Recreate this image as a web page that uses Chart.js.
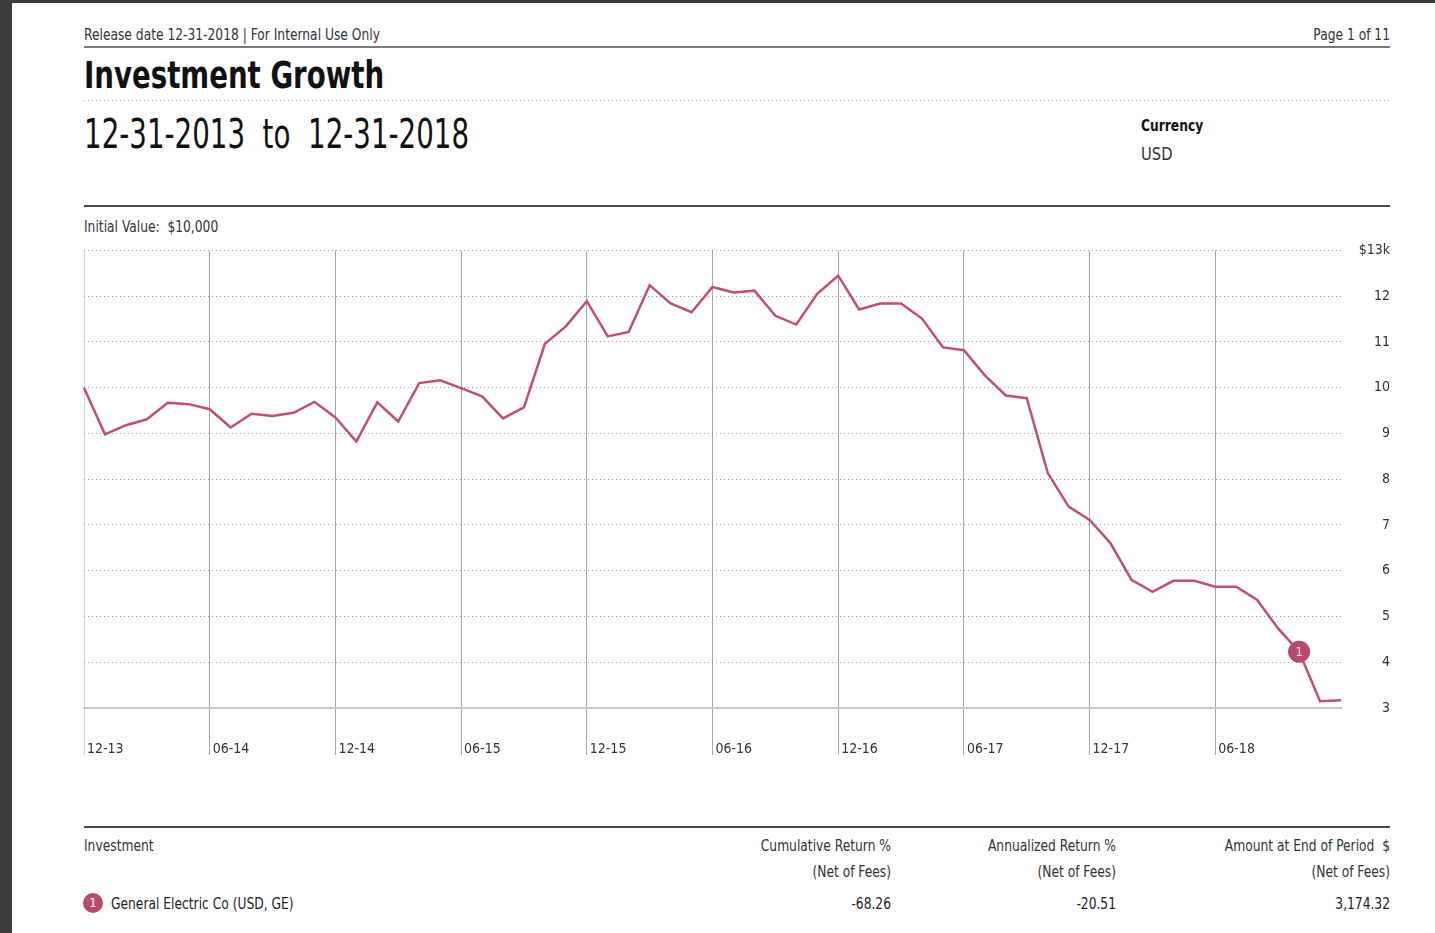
<!DOCTYPE html>
<html>
<head>
<meta charset="utf-8">
<script src="https://cdn.jsdelivr.net/npm/chart.js@4/dist/chart.umd.min.js"></script>
<style>
  html, body { margin:0; padding:0; }
  body { width:1435px; height:933px; position:relative; overflow:hidden; background:#fff;
         font-family:"DejaVu Sans Condensed","Liberation Sans Narrow","Roboto",sans-serif; color:#222; }
  .abs { position:absolute; white-space:nowrap; }
  .sl { transform:scaleX(0.91); transform-origin:0 50%; }
  .r { text-align:right; transform:scaleX(0.91); transform-origin:100% 50%; }
  .hl { position:absolute; left:84px; width:1306px; }
  .dots { height:1px; background:repeating-linear-gradient(to right,#9a9a9a 0 1px,transparent 1px 4px); }
</style>
</head>
<body>
<div class="abs" style="left:0;top:0;width:12px;height:933px;background:#3c3c3c"></div>
<div class="abs" style="left:0;top:0;width:1435px;height:3px;background:#3c3c3c"></div>

<div class="abs sl" style="left:84px;top:26px;font-size:15px;line-height:18px;color:#333">Release date 12-31-2018 | For Internal Use Only</div>
<div class="abs r" style="left:1190px;width:200px;top:26px;font-size:15px;line-height:18px;color:#333">Page 1 of 11</div>
<div class="hl" style="top:46px;height:2px;background:#7a7a7a"></div>

<div class="abs" style="left:84px;top:55px;font-size:37px;line-height:42px;font-weight:bold;color:#111;transform:scaleX(0.83);transform-origin:0 50%">Investment Growth</div>
<div class="hl dots" style="top:100px"></div>

<div class="abs" style="left:84px;top:111px;font-size:40px;line-height:46px;color:#111;transform:scaleX(0.77);transform-origin:0 50%">12-31-2013&nbsp;&nbsp;to&nbsp;&nbsp;12-31-2018</div>
<div class="abs sl" style="left:1141px;top:117px;font-size:15px;line-height:18px;font-weight:bold;color:#111">Currency</div>
<div class="abs sl" style="left:1141px;top:144px;font-size:18px;line-height:20px;color:#333">USD</div>
<div class="hl" style="top:205px;height:2px;background:#4a4a4a"></div>

<div class="abs sl" style="left:84px;top:218px;font-size:15px;line-height:18px;color:#333">Initial Value:&nbsp;&nbsp;$10,000</div>

<div class="abs" style="left:60px;top:230px;width:1330px;height:540px"><canvas id="c"></canvas></div>

<div class="hl" style="top:826px;height:2px;background:#4a4a4a"></div>
<div class="abs sl" style="left:84px;top:837px;font-size:15px;line-height:18px;color:#333">Investment</div>
<div class="abs r" style="left:691px;width:200px;top:837px;font-size:15px;line-height:18px;color:#333">Cumulative Return %</div>
<div class="abs r" style="left:691px;width:200px;top:863px;font-size:15px;line-height:18px;color:#333">(Net of Fees)</div>
<div class="abs r" style="left:916px;width:200px;top:837px;font-size:15px;line-height:18px;color:#333">Annualized Return %</div>
<div class="abs r" style="left:916px;width:200px;top:863px;font-size:15px;line-height:18px;color:#333">(Net of Fees)</div>
<div class="abs r" style="left:1090px;width:300px;top:837px;font-size:15px;line-height:18px;color:#333">Amount at End of Period&nbsp;&nbsp;$</div>
<div class="abs r" style="left:1090px;width:300px;top:863px;font-size:15px;line-height:18px;color:#333">(Net of Fees)</div>

<div class="abs" style="left:83px;top:893px;width:20px;height:20px;border-radius:50%;background:#b94a6b;color:#fff;font-size:13px;line-height:20px;text-align:center">1</div>
<div class="abs sl" style="left:111px;top:895px;font-size:15px;line-height:18px;color:#222">General Electric Co (USD, GE)</div>
<div class="abs r" style="left:691px;width:200px;top:895px;font-size:15px;line-height:18px;color:#222">-68.26</div>
<div class="abs r" style="left:916px;width:200px;top:895px;font-size:15px;line-height:18px;color:#222">-20.51</div>
<div class="abs r" style="left:1090px;width:300px;top:895px;font-size:15px;line-height:18px;color:#222">3,174.32</div>

<script>
const months = ['12-13','01-14','02-14','03-14','04-14','05-14','06-14','07-14','08-14','09-14','10-14','11-14',
  '12-14','01-15','02-15','03-15','04-15','05-15','06-15','07-15','08-15','09-15','10-15','11-15',
  '12-15','01-16','02-16','03-16','04-16','05-16','06-16','07-16','08-16','09-16','10-16','11-16',
  '12-16','01-17','02-17','03-17','04-17','05-17','06-17','07-17','08-17','09-17','10-17','11-17',
  '12-17','01-18','02-18','03-18','04-18','05-18','06-18','07-18','08-18','09-18','10-18','11-18','12-18'];
const tickLabels = ['12-13','06-14','12-14','06-15','12-15','06-16','12-16','06-17','12-17','06-18'];
// growth of $10,000, in $ thousands
const geValues = [10.00, 8.98, 9.18, 9.31, 9.67, 9.64, 9.53, 9.13, 9.43, 9.38, 9.45, 9.69,
  9.35, 8.82, 9.68, 9.26, 10.10, 10.16, 9.99, 9.81, 9.33, 9.57, 10.96, 11.34,
  11.89, 11.12, 11.22, 12.24, 11.84, 11.65, 12.20, 12.08, 12.12, 11.57, 11.38, 12.05,
  12.45, 11.71, 11.84, 11.84, 11.51, 10.88, 10.82, 10.27, 9.83, 9.77, 8.14, 7.40,
  7.11, 6.60, 5.80, 5.54, 5.78, 5.78, 5.65, 5.65, 5.36, 4.74, 4.23, 3.15, 3.17];
const markerIndex = 58;
const markerLabel = '1';

const FONT = '"DejaVu Sans Condensed","Liberation Sans Narrow","Roboto",sans-serif';

const markerPlugin = {
  id: 'markerText',
  afterDatasetsDraw(chart) {
    const pt = chart.getDatasetMeta(0).data[markerIndex];
    const ctx = chart.ctx;
    ctx.save();
    ctx.fillStyle = '#f4dde4';
    ctx.font = '13px ' + FONT;
    ctx.textAlign = 'center';
    ctx.textBaseline = 'middle';
    ctx.fillText(markerLabel, pt.x, pt.y + 1);
    ctx.restore();
  }
};

new Chart(document.getElementById('c'), {
  type: 'line',
  data: {
    labels: months,
    datasets: [{
      data: geValues,
      borderColor: '#c0506f',
      borderWidth: 2.5,
      tension: 0,
      pointRadius: c => c.dataIndex === markerIndex ? 11 : 0,
      pointHoverRadius: c => c.dataIndex === markerIndex ? 11 : 0,
      pointBackgroundColor: '#b94a6b',
      pointBorderWidth: 0
    }]
  },
  plugins: [markerPlugin],
  options: {
    responsive: true,
    maintainAspectRatio: false,
    animation: false,
    events: [],
    layout: { padding: { left: 24, top: 0, right: 0, bottom: 0 } },
    plugins: { legend: { display: false }, tooltip: { enabled: false } },
    scales: {
      x: {
        type: 'category',
        offset: false,
        afterFit: s => { s.height = 62; },
        grid: {
          drawOnChartArea: true,
          drawTicks: true,
          tickLength: 47,
          lineWidth: 1,
          color: c => {
            const lbl = months[c.index];
            if (!tickLabels.includes(lbl)) return 'rgba(0,0,0,0)';
            return c.index === 0 ? '#d2d2d2' : '#a6a6a6';
          }
        },
        border: { display: true, color: '#c8c8c8', width: 2 },
        ticks: {
          autoSkip: false,
          maxRotation: 0,
          minRotation: 0,
          align: 'start',
          labelOffset: 3,
          padding: -14,
          color: '#333',
          font: { family: FONT, size: 14 },
          callback: (v, i) => tickLabels.includes(months[i]) ? months[i] : ''
        }
      },
      y: {
        position: 'right',
        min: 3,
        max: 13,
        afterFit: s => { s.width = 49; },
        grid: {
          drawTicks: false,
          lineWidth: 1,
          color: c => c.tick && c.tick.value === 3 ? 'rgba(0,0,0,0)' : '#9a9a9a'
        },
        border: { display: false, dash: [1, 3] },
        ticks: {
          stepSize: 1,
          crossAlign: 'far',
          padding: 12,
          color: '#333',
          font: { family: FONT, size: 14 },
          callback: v => v === 13 ? '$13k' : String(v)
        }
      }
    }
  }
});
</script>
</body>
</html>
